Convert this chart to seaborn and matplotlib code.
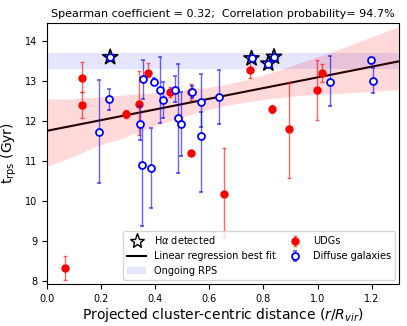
import numpy as np
import pandas as pd
import matplotlib
matplotlib.use("Agg")
import matplotlib.pyplot as plt
import seaborn as sns
from matplotlib.patches import Patch
from matplotlib.lines import Line2D

# ---- data ----
udg_x = [0.069, 0.129, 0.129, 0.291, 0.341, 0.374, 0.456, 0.534, 0.533, 0.654, 0.749, 0.830, 0.895, 0.999, 1.017]
udg_y = [8.32, 13.07, 12.40, 12.17, 12.43, 13.20, 12.72, 12.72, 11.20, 10.18, 13.27, 12.30, 11.80, 12.76, 13.20]
udg_err_lo = [0.30, 0.34, 0.34, 0.10, 0.79, 0.10, 0.13, 0.20, 0.08, 1.08, 0.20, 0.10, 1.22, 0.75, 0.22]
udg_err_hi = [0.30, 0.39, 0.33, 0.10, 0.82, 0.25, 0.13, 0.20, 0.08, 1.13, 0.20, 0.10, 1.18, 0.75, 0.22]

dif_x = [0.192, 0.229, 0.234, 0.343, 0.357, 0.353, 0.384, 0.396, 0.419, 0.428, 0.473, 0.486, 0.496,
         0.536, 0.568, 0.568, 0.636, 0.756, 0.818, 0.839, 1.045, 1.196, 1.204]
dif_y = [11.73, 12.54, 13.59, 11.93, 13.04, 10.89, 10.82, 12.98, 12.77, 12.52, 12.77, 12.08, 11.92,
         12.73, 12.48, 11.62, 12.60, 13.56, 13.43, 13.60, 12.98, 13.51, 13.00]
dif_err_lo = [1.29, 0.26, 0.0, 0.40, 0.50, 1.51, 1.01, 0.08, 0.82, 0.45, 0.30, 1.39, 0.80,
              0.15, 0.64, 1.39, 0.67, 0.0, 0.0, 0.0, 0.61, 0.05, 0.30]
dif_err_hi = [1.29, 0.25, 0.0, 0.43, 0.49, 1.00, 1.01, 0.08, 0.83, 0.45, 0.35, 1.35, 0.81,
              0.15, 0.69, 0.60, 0.68, 0.0, 0.0, 0.0, 0.64, 0.05, 0.32]

ha_x = [0.234, 0.756, 0.818, 0.839]
ha_y = [13.59, 13.56, 13.43, 13.60]

rps_band = (13.3, 13.7)

spearman = 0.32
corr_prob = 94.7
x_ticks = [0.0, 0.2, 0.4, 0.6, 0.8, 1.0, 1.2]
y_ticks = [8, 9, 10, 11, 12, 13, 14]

# ---- figure ----
fig = plt.figure(figsize=(4.07, 3.26), dpi=100)
ax = fig.add_axes([0.115, 0.129, 0.865, 0.801])
ax.set_xlim(0, 1.3)
ax.set_ylim(7.92, 14.45)

ax.axhspan(rps_band[0], rps_band[1], color="blue", alpha=0.1, lw=0, zorder=0)

fit_df = pd.DataFrame({"x": udg_x + dif_x + ha_x, "y": udg_y + dif_y + ha_y})
sns.regplot(data=fit_df, x="x", y="y", ax=ax, scatter=False, color="red", ci=95,
            n_boot=1000, seed=1, truncate=False,
            line_kws={"lw": 1.5, "zorder": 1})
ax.lines[-1].set_color("black")

ax.scatter(ha_x, ha_y, marker="*", s=130, facecolor="none", edgecolor="black",
           linewidths=1.2, zorder=4)

udg = ax.errorbar(udg_x, udg_y, yerr=[udg_err_lo, udg_err_hi], fmt="o", color="red",
                  ms=5, ecolor=(1, 0, 0, 0.6), elinewidth=1.0, capsize=1.5, zorder=3)
dif = ax.errorbar(dif_x, dif_y, yerr=[dif_err_lo, dif_err_hi], fmt="o", color="blue",
                  mfc="white", mec="blue", mew=1.3, ms=5, ecolor=(0, 0, 1, 0.6),
                  elinewidth=1.0, capsize=1.5, zorder=5)

ax.set_xticks(x_ticks)
ax.set_yticks(y_ticks)
ax.tick_params(labelsize=7)
ax.set_xlabel(r"Projected cluster-centric distance ($r/R_{vir}$)", fontsize=10, labelpad=2)
ax.set_ylabel(r"t$_{\rm rps}$ (Gyr)", fontsize=10)
ax.set_title(f"Spearman coefficient = {spearman:.2f};  Correlation probability= {corr_prob}%",
             fontsize=8, pad=4)

h_star = Line2D([], [], marker="*", ls="none", mfc="none", mec="black", ms=11, mew=1.0)
h_line = Line2D([], [], color="black", lw=1.5)
h_patch = Patch(facecolor="blue", alpha=0.1)
ax.legend([h_star, h_line, h_patch, udg, dif],
          [r"H$\alpha$ detected", "Linear regression best fit", "Ongoing RPS", "UDGs", "Diffuse galaxies"],
          ncol=2, loc="lower right", fontsize=7, columnspacing=1.0, borderaxespad=0.4)

fig.savefig("out.png", dpi=100)
